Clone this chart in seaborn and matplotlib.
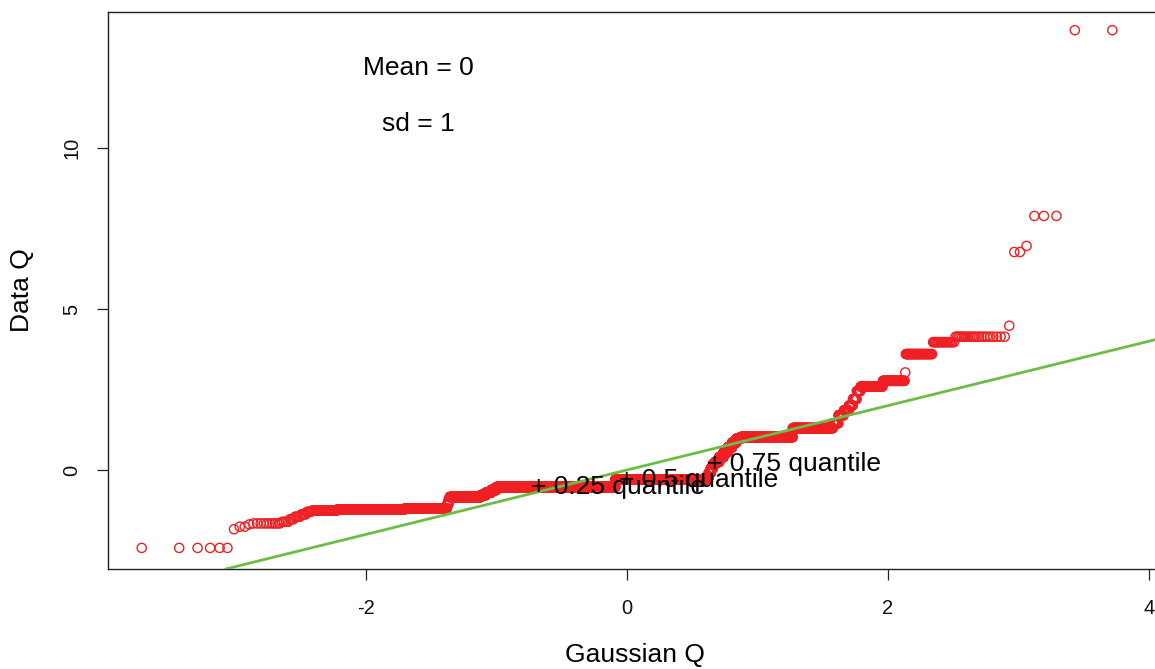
import numpy as np
import pandas as pd
import matplotlib
matplotlib.use("Agg")
import matplotlib.pyplot as plt
import seaborn as sns
from statistics import NormalDist

# Sorted sample, stored as distinct values and how many observations share each value
data_levels = [-2.42, -1.84, -1.76, -1.69, -1.66, -1.61, -1.53, -1.45, -1.38, -1.30,
               -1.26, -1.22, -1.19, -1.08, -0.96, -0.84, -0.78, -0.70, -0.62, -0.53,
               -0.30, -0.23, -0.09, 0.05, 0.18, 0.25, 0.40, 0.55, 0.70, 0.85, 0.97,
               1.02, 1.30, 1.45, 1.70, 1.85, 2.00, 2.20, 2.45, 2.59, 2.77, 3.03,
               3.60, 3.97, 4.14, 4.48, 6.77, 6.96, 7.89, 13.66]
data_counts = [6, 1, 2, 1, 10, 4, 3, 4, 4, 4,
               27, 157, 196, 8, 8, 222, 43, 46, 47, 1528,
               1325, 26, 26, 26, 26, 51, 50, 49, 48, 46, 45,
               451, 224, 23, 21, 19, 14, 13, 12, 59, 42, 1,
               34, 18, 21, 1, 2, 1, 3, 2]

# Reference Gaussian
ref_mean = 0
ref_sd = 1

marked_probs = [0.25, 0.5, 0.75]
marked_labels = ["+ 0.25 quantile", "+ 0.5 quantile", "+ 0.75 quantile"]
x_ticks = [-2, 0, 2, 4]
y_ticks = [0, 5, 10]

RED = "#EE2024"
GREEN = "#6CBD45"

data_q = np.repeat(np.array(data_levels, dtype=float), data_counts)
n = data_q.size
gauss = NormalDist(ref_mean, ref_sd)
gauss_q = np.array([gauss.inv_cdf((i - 0.5) / n) for i in range(1, n + 1)])
df = pd.DataFrame({"Gaussian Q": gauss_q, "Data Q": data_q})

sns.set_theme(style="white")
plt.rcParams["font.family"] = ["Liberation Sans", "DejaVu Sans"]
plt.rcParams["axes.unicode_minus"] = False

W, H = 1155, 669
fig = plt.figure(figsize=(W / 100, H / 100), dpi=100)
ax = fig.add_axes([108 / W, 100 / H, 1053 / W, 557 / H])

sns.scatterplot(data=df, x="Gaussian Q", y="Data Q", ax=ax, marker="o", s=44,
                color=RED, linewidth=1.0, legend=False, zorder=2)
pts = ax.collections[0]
pts.set_facecolor("none")
pts.set_edgecolor(RED)
pts.set_linewidth(1.0)

# identity line for the reference Gaussian
ax.axline((0, ref_mean), slope=ref_sd, color=GREEN, lw=2, zorder=3)

ax.set_xlim(-3.977, 4.092)
ax.set_ylim(-3.075, 14.224)
ax.set_xticks(x_ticks)
ax.set_yticks(y_ticks)
ax.set_xticklabels([str(t) for t in x_ticks])
ax.set_yticklabels([str(t) for t in y_ticks], rotation=90, va="center")

ax.tick_params(axis="both", which="major", bottom=True, left=True, direction="out",
               length=8, width=0.9, color="#222222", labelsize=14.5, labelcolor="#111111")
ax.tick_params(axis="x", pad=13.5)
ax.tick_params(axis="y", pad=11)
for side in ["left", "right", "top", "bottom"]:
    ax.spines[side].set_color("#222222")
    ax.spines[side].set_linewidth(1.0)

ax.set_xlabel("Gaussian Q", fontsize=19, color="black")
ax.set_ylabel("Data Q", fontsize=19, color="black")
ax.xaxis.set_label_coords(0.5, -0.1544)
ax.xaxis.label.set_va("center")
ax.yaxis.set_label_coords(-0.0817, 0.5)
ax.yaxis.label.set_va("center")

ax.text(-1.6, 12.48, f"Mean = {ref_mean}", fontsize=19, ha="center", va="center", color="black")
ax.text(-1.6, 10.75, f"sd = {ref_sd}", fontsize=19, ha="center", va="center", color="black")

for p, lab in zip(marked_probs, marked_labels):
    xq = gauss.inv_cdf(p)
    yq = float(np.quantile(data_q, p))
    ax.annotate(lab, (xq, yq), xytext=(-5.5, 0), textcoords="offset points",
                ha="left", va="center", fontsize=19, color="black", zorder=4)

fig.savefig("out.png", dpi=100, facecolor="white")
